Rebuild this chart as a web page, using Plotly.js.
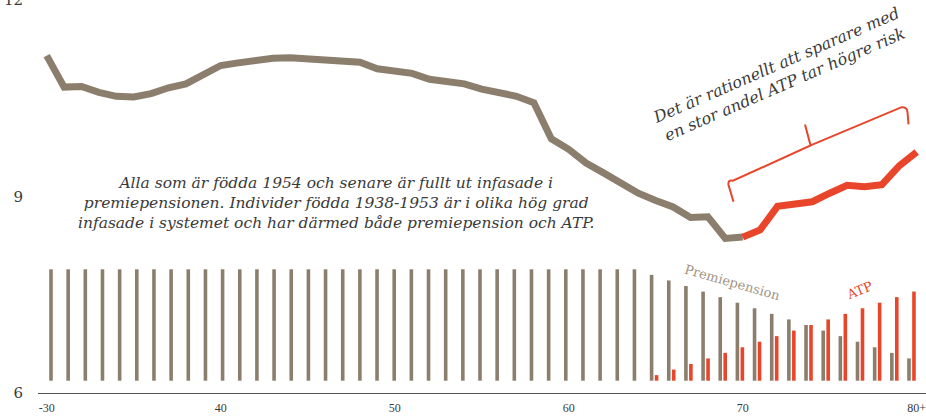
<!DOCTYPE html>
<html>
<head>
<meta charset="utf-8">
<script src="https://cdn.plot.ly/plotly-3.0.1.min.js"></script>
<style>
  html, body { margin: 0; padding: 0; background: #ffffff; }
  #chart { width: 926px; height: 417px; }
</style>
</head>
<body>
<div id="chart"></div>
<script>
// ---- Data ----
var ages = [30,31,32,33,34,35,36,37,38,39,40,41,42,43,44,45,46,47,48,49,50,
            51,52,53,54,55,56,57,58,59,60,61,62,63,64,65,66,67,68,69,70,
            71,72,73,74,75,76,77,78,79,80];

// Line values (left axis, 6–12)
var lineValues = [11.15,10.67,10.68,10.59,10.53,10.52,10.57,10.66,10.72,10.86,11.00,
                  11.04,11.08,11.11,11.12,11.10,11.09,11.07,11.05,10.95,10.91,
                  10.88,10.79,10.75,10.72,10.64,10.59,10.53,10.43,9.88,9.72,
                  9.51,9.36,9.21,9.05,8.94,8.84,8.68,8.69,8.36,8.38,
                  8.49,8.85,8.88,8.92,9.05,9.17,9.15,9.18,9.47,9.68];

// Share of premiepension / ATP per age (percent)
var premieShare = [100,100,100,100,100,100,100,100,100,100,100,
                   100,100,100,100,100,100,100,100,100,100,
                   100,100,100,100,100,100,100,100,100,100,
                   100,100,100,100,95,90,85,80,75,70,
                   65,60,55,50,45,40,35,30,25,20];
var atpShare = [0,0,0,0,0,0,0,0,0,0,0,
                0,0,0,0,0,0,0,0,0,0,
                0,0,0,0,0,0,0,0,0,0,
                0,0,0,0,5,10,15,20,25,30,
                35,40,45,50,55,60,65,70,75,80];

var tickValues = [30,40,50,60,70,80];
var tickLabels = ["-30","40","50","60","70","80+"];
var yTickValues = [6, 9, 12];

var splitIndex = ages.indexOf(70);

// ---- Styles ----
var BROWN = "#8c7e6d";
var RED = "#e8452a";
var TEXT = "#3a3a3a";
var SERIF = "DejaVu Serif, Liberation Serif, serif";

var traces = [
  {
    type: "bar", x: ages, y: premieShare, xaxis: "x2", yaxis: "y2",
    width: 0.21, offset: -0.105,
    marker: { color: BROWN, line: { width: 0 } },
    hoverinfo: "skip", showlegend: false
  },
  {
    type: "bar", x: ages, y: atpShare.map(function (v) { return v > 0 ? v : null; }),
    xaxis: "x2", yaxis: "y2",
    width: 0.21, offset: 0.185,
    marker: { color: RED, line: { width: 0 } },
    hoverinfo: "skip", showlegend: false
  },
  {
    type: "scatter", mode: "lines",
    x: ages.slice(0, splitIndex + 1), y: lineValues.slice(0, splitIndex + 1),
    line: { color: BROWN, width: 7 },
    hoverinfo: "skip", showlegend: false
  },
  {
    type: "scatter", mode: "lines",
    x: ages.slice(splitIndex), y: lineValues.slice(splitIndex),
    line: { color: RED, width: 7 },
    hoverinfo: "skip", showlegend: false
  }
];

var bracketPath =
  "M 69.47 8.92 L 69.18 9.18 Q 69.15 9.26 69.44 9.24 " +
  "L 73.9 9.78 L 73.58 10.10 M 73.9 9.78 " +
  "L 79.10 10.36 Q 79.45 10.37 79.47 10.29 L 79.53 10.10";

var layout = {
  width: 926, height: 417,
  margin: { l: 38, r: 0, t: 0, b: 24, pad: 0 },
  paper_bgcolor: "#ffffff", plot_bgcolor: "#ffffff",
  barmode: "overlay",
  showlegend: false,
  xaxis: {
    range: [29.5, 80.534],
    tickvals: tickValues, ticktext: tickLabels,
    showgrid: false, zeroline: false,
    showline: true, linecolor: "#555555", linewidth: 1,
    ticks: "", ticklabelstandoff: 4, ticklabeloverflow: "allow",
    tickfont: { family: "Liberation Serif, DejaVu Serif, serif", size: 12, color: TEXT },
    fixedrange: true
  },
  yaxis: {
    range: [6, 12], tickvals: yTickValues,
    showgrid: false, zeroline: false, showline: false,
    ticks: "", ticklabelstandoff: 14, ticklabeloverflow: "allow",
    tickfont: { family: SERIF, size: 15, color: TEXT },
    fixedrange: true
  },
  xaxis2: {
    overlaying: "x", range: [29.2424, 80.991], visible: false, fixedrange: true
  },
  yaxis2: {
    overlaying: "y", range: [-11.04, 341.74], visible: false, fixedrange: true
  },
  shapes: [
    {
      type: "path", xref: "x", yref: "y", path: bracketPath,
      line: { color: RED, width: 2 }, fillcolor: "rgba(0,0,0,0)"
    }
  ],
  annotations: [
    {
      xref: "x", yref: "y", x: 46.65, y: 8.9,
      text: "<i>Alla som är födda 1954 och senare är fullt ut infasade i<br>premiepensionen. Individer födda 1938-1953 är i olika hög grad<br>infasade i systemet och har därmed både premiepension och ATP.</i>",
      showarrow: false, align: "center",
      font: { family: SERIF, size: 15.5, color: TEXT }
    },
    {
      xref: "x", yref: "y", x: 72.15, y: 10.85,
      text: "<i>Det är rationellt att sparare med<br>en stor andel ATP tar högre risk</i>",
      showarrow: false, align: "center", textangle: -23.5,
      font: { family: SERIF, size: 16, color: TEXT }
    },
    {
      xref: "x", yref: "y", x: 69.42, y: 7.68,
      text: "Premiepension",
      showarrow: false, textangle: 16,
      font: { family: SERIF, size: 13, color: "#a09483" }
    },
    {
      xref: "x", yref: "y", x: 76.7, y: 7.56,
      text: "ATP",
      showarrow: false, textangle: -22,
      font: { family: SERIF, size: 13, color: RED }
    }
  ]
};

Plotly.newPlot("chart", traces, layout, { staticPlot: true, displayModeBar: false });
</script>
</body>
</html>
